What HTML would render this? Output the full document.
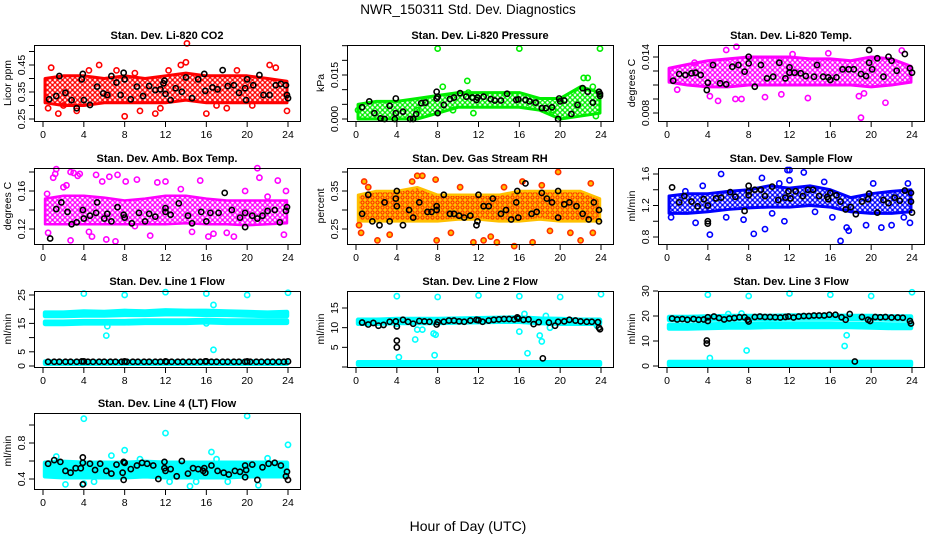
<!DOCTYPE html>
<html><head><meta charset="utf-8"><style>
html,body{margin:0;padding:0;background:#fff;}
svg{display:block;font-family:"Liberation Sans",Arial,sans-serif;}
</style></head><body>
<svg id="chart" width="936" height="540" viewBox="0 0 936 540" xmlns="http://www.w3.org/2000/svg">
<defs>
<pattern id="pat-red" width="5" height="5" patternUnits="userSpaceOnUse"><circle cx="2.5" cy="2.5" r="1.9" fill="none" stroke="#ff0000" stroke-width="1.3"/></pattern>
<pattern id="pat-green" width="5" height="5" patternUnits="userSpaceOnUse"><circle cx="2.5" cy="2.5" r="1.9" fill="none" stroke="#00ee00" stroke-width="1.3"/></pattern>
<pattern id="pat-magenta" width="5" height="5" patternUnits="userSpaceOnUse"><circle cx="2.5" cy="2.5" r="1.9" fill="none" stroke="#ff00ff" stroke-width="1.3"/></pattern>
<pattern id="pat-orange" width="5" height="5" patternUnits="userSpaceOnUse"><rect width="5" height="5" fill="#ffc000"/><circle cx="2.5" cy="2.5" r="1.6" fill="none" stroke="#ff2000" stroke-width="1"/></pattern>
<pattern id="pat-blue" width="5" height="5" patternUnits="userSpaceOnUse"><circle cx="2.5" cy="2.5" r="1.9" fill="none" stroke="#0000ff" stroke-width="1.3"/></pattern>
<pattern id="pat-cyan" width="5" height="5" patternUnits="userSpaceOnUse"><rect width="5" height="5" fill="#00ffff"/></pattern>
</defs>
<text x="468" y="14" font-size="13.5" text-anchor="middle">NWR_150311  Std. Dev. Diagnostics</text>
<text x="468" y="531" font-size="14" text-anchor="middle">Hour of Day (UTC)</text>
</svg>
<script>
// ---------- data ----------
const bandHours = [0.2,2,4,6,8,10,12,14,16,18,20,22,23.9];
const xTicks = [0,4,8,12,16,20,24];

// P1 CO2
const co2Lo = [0.31,0.30,0.30,0.31,0.31,0.31,0.31,0.32,0.31,0.31,0.31,0.31,0.31];
const co2Hi = [0.40,0.41,0.41,0.40,0.41,0.40,0.41,0.42,0.41,0.41,0.41,0.40,0.39];
const co2OutX = [0.8,0.5,1.5,3.3,5.5,7.2,8.0,9.5,11.0,11.5,13.5,14.1,14.0,16,17,18,19,22.2,23.9,22.8,4.5,2.0,9,12.3,20.5];
const co2OutY = [0.44,0.29,0.27,0.28,0.45,0.43,0.26,0.28,0.27,0.29,0.45,0.53,0.46,0.27,0.30,0.29,0.43,0.45,0.28,0.44,0.43,0.30,0.42,0.43,0.30];
const co2BX = [0.6,1.3,1.6,2.2,2.8,3.3,3.8,3.9,4.0,4.6,5.3,5.9,6.3,6.7,7.2,7.6,7.9,8.0,8.6,9.2,9.8,10.4,11.0,11.5,11.8,11.9,12.0,12.5,13.0,13.6,14.0,14.6,15.2,15.8,15.9,16.6,17.1,17.6,18.1,18.7,19.2,19.8,19.9,20.0,20.6,21.2,21.6,22.2,22.8,23.3,23.8,23.9,24.0];
const co2BY = [0.323,0.335,0.409,0.347,0.320,0.290,0.397,0.417,0.320,0.302,0.370,0.345,0.339,0.409,0.385,0.339,0.421,0.397,0.323,0.370,0.335,0.372,0.357,0.360,0.382,0.392,0.343,0.320,0.364,0.351,0.404,0.327,0.397,0.417,0.354,0.367,0.360,0.431,0.372,0.375,0.347,0.364,0.320,0.397,0.375,0.413,0.339,0.339,0.375,0.380,0.375,0.339,0.327];

// P2 pressure
const prLo = [0,0,0,0,0.002,0.004,0.004,0.004,0.004,0.003,0,0.001,0.002];
const prHi = [0.005,0.006,0.006,0.007,0.008,0.009,0.009,0.009,0.009,0.007,0.007,0.011,0.009];
const prOutX = [8.0,16,23.9,10.9,8.5,22.3,22.7,23.2,11,9.5,0.2,11.5,6,23.5,19.3];
const prOutY = [0.024,0.024,0.024,0.013,0.011,0.014,0.014,0.011,0.009,0.003,0.003,0.002,0.003,0.001,0.003];
const prBX = [0.6,1.3,1.8,2.4,2.8,3.3,3.8,3.9,3.9,4.6,5.3,5.6,5.9,6.4,6.8,7.9,7.9,8.0,8.0,8.6,9.2,9.6,10.2,10.8,11.4,11.8,11.9,12.5,13.2,13.6,14.2,14.8,15.7,15.9,16.6,17.0,17.6,18.2,18.6,19.2,19.8,19.9,20.0,20.4,21.1,21.7,22.2,22.7,23.2,23.8,23.9,23.9];
const prBY = [0.004,0.006,0.002,0.0002,0,0.0045,0,0.002,0.007,0.0025,0,0,0.0017,0.0054,0.0056,0.0093,0.007,0.0076,0.002,0.0048,0.0068,0.0073,0.0088,0.0076,0.0073,0.0065,0.0073,0.0076,0.0068,0.0063,0.0063,0.0086,0.0065,0.0067,0.0065,0.006,0.0056,0.0037,0.0037,0.004,0,0.007,0.006,0.0063,0.0017,0.0048,0.0105,0.0093,0.0056,0.0093,0.0079,0.0086];

// P3 Li-820 temp
const ltLo = [0.0113,0.0110,0.0108,0.0108,0.0110,0.0110,0.0110,0.0110,0.0110,0.0110,0.0108,0.0110,0.0113];
const ltHi = [0.0128,0.0132,0.0136,0.0138,0.0140,0.0140,0.0140,0.0138,0.0138,0.0136,0.0140,0.0138,0.0130];
const ltOutX = [5.8,6.8,19.0,23.0,21.4,4.2,5.0,6.7,7.3,9.6,13.8,18.8,19.3,11.2,1.0,12.3,15.8,2.7];
const ltOutY = [0.01475,0.0151,0.0075,0.0147,0.0091,0.0098,0.0093,0.0095,0.0095,0.0097,0.0096,0.0098,0.0101,0.0100,0.0105,0.0143,0.0144,0.0134];
const ltBX = [0.6,1.2,1.8,2.4,2.8,3.3,3.9,4.0,4.5,5.2,5.8,6.4,7.0,7.6,8.0,8.0,8.6,9.2,9.8,10.4,11.0,11.6,12.0,12.0,12.5,13.1,13.6,14.4,14.7,15.3,15.8,16.0,16.6,17.2,17.8,18.3,19.0,19.5,19.8,19.8,20.1,20.6,21.2,21.7,22.0,22.5,23.3,23.8,24.0];
const ltBY = [0.01146,0.01218,0.01207,0.01225,0.01232,0.01207,0.01046,0.01125,0.01314,0.01118,0.01107,0.01296,0.01314,0.01243,0.01403,0.01332,0.01082,0.01314,0.01171,0.01189,0.01339,0.01171,0.01232,0.01289,0.01232,0.01225,0.01196,0.01189,0.01314,0.01189,0.01182,0.01154,0.01182,0.01268,0.01268,0.01268,0.01218,0.01196,0.01475,0.01339,0.01268,0.01386,0.01189,0.01403,0.0136,0.01253,0.01432,0.01279,0.01232];

// P4 amb box temp
const abLo = [0.125,0.125,0.125,0.125,0.125,0.125,0.125,0.126,0.125,0.125,0.124,0.125,0.126];
const abHi = [0.152,0.155,0.155,0.153,0.150,0.152,0.155,0.155,0.152,0.150,0.150,0.150,0.150];
const abOutX = [0.5,1.0,1.2,1.3,2.0,2.3,2.7,2.7,3.0,3.4,3.6,4.5,5.2,5.8,6.2,6.5,7.1,7.3,8.1,9.2,10.5,11.2,12.0,13.5,14.6,15.4,16.2,16.7,18.0,18.7,19.8,21.0,21.2,22.0,23.0,23.6,23.8,0.4,4.8,9.0];
const abOutY = [0.116,0.174,0.178,0.183,0.164,0.166,0.108,0.180,0.179,0.176,0.178,0.117,0.177,0.170,0.109,0.175,0.107,0.177,0.170,0.172,0.113,0.169,0.170,0.162,0.117,0.171,0.112,0.115,0.116,0.112,0.160,0.184,0.174,0.154,0.171,0.114,0.160,0.157,0.112,0.123];
const abBX = [0.7,1.3,1.8,2.4,2.8,3.3,3.9,4.0,4.6,5.2,5.3,6.0,6.3,6.7,7.3,7.9,8.0,8.7,9.4,10.0,10.4,11.0,12.0,12.0,12.5,13.3,14.2,14.6,15.5,16.0,16.4,17.2,17.8,18.5,19.3,19.8,19.8,20.5,21.0,21.5,22.0,22.7,23.2,23.8,23.9];
const abBY = [0.110,0.141,0.148,0.138,0.125,0.127,0.140,0.131,0.134,0.137,0.148,0.131,0.136,0.128,0.143,0.135,0.132,0.126,0.137,0.128,0.136,0.133,0.138,0.142,0.135,0.147,0.134,0.126,0.138,0.128,0.137,0.137,0.158,0.140,0.132,0.137,0.122,0.134,0.131,0.134,0.139,0.140,0.127,0.139,0.143];

// P5 gas stream RH
const rhLo = [0.27,0.27,0.27,0.27,0.27,0.275,0.275,0.27,0.27,0.275,0.27,0.27,0.27];
const rhHi = [0.34,0.35,0.35,0.36,0.34,0.34,0.34,0.34,0.35,0.35,0.35,0.35,0.33];
const rhOutX = [0.3,0.5,0.8,1.2,2.1,3.3,5.5,6.0,6.5,7.8,7.9,9.3,10.2,11.5,12.5,13.2,13.8,14.5,15.5,16.3,17.3,18.2,19.0,19.8,21.0,22.0,23.0,23.2];
const rhOutY = [0.26,0.24,0.375,0.36,0.22,0.235,0.375,0.39,0.39,0.38,0.22,0.24,0.36,0.215,0.22,0.23,0.215,0.36,0.205,0.375,0.215,0.365,0.245,0.40,0.24,0.22,0.37,0.24];
const rhBX = [0.6,1.2,1.6,2.3,2.8,3.3,3.9,4.0,4.0,4.6,5.2,5.6,6.2,7.0,7.4,7.9,7.9,8.6,9.2,9.6,10.1,10.6,11.2,11.8,11.9,12.0,12.5,13.0,13.4,14.2,14.7,15.2,15.7,15.8,15.9,16.6,17.2,17.7,18.2,18.7,19.2,19.8,19.8,20.4,20.9,21.6,22.2,22.8,23.3,23.8,23.8];
const rhBY = [0.29,0.34,0.27,0.26,0.32,0.27,0.33,0.35,0.31,0.26,0.30,0.28,0.32,0.295,0.295,0.31,0.30,0.34,0.29,0.29,0.285,0.28,0.285,0.26,0.27,0.34,0.31,0.31,0.33,0.29,0.30,0.275,0.32,0.35,0.28,0.37,0.29,0.295,0.345,0.33,0.32,0.35,0.28,0.315,0.32,0.31,0.29,0.275,0.32,0.30,0.27];

// P6 sample flow
const sfLo = [1.10,1.10,1.12,1.15,1.17,1.18,1.18,1.20,1.18,1.12,1.10,1.10,1.12];
const sfHi = [1.32,1.35,1.35,1.38,1.40,1.45,1.42,1.45,1.40,1.30,1.35,1.38,1.40];
const sfOutX = [0.4,1.8,2.8,3.5,4.2,5.3,5.8,7.5,8.5,9.3,9.6,10.3,11.0,11.5,11.8,12.0,12.0,13.4,14.5,15.4,16.2,17.0,17.6,17.8,19.5,20.2,21.0,22.0,23.2,23.6,23.8];
const sfOutY = [1.05,1.38,0.98,1.45,0.83,1.60,1.05,1.02,0.84,1.55,0.90,1.10,1.48,1.00,1.65,1.65,1.52,1.62,1.12,1.50,1.05,0.75,0.92,0.88,0.95,1.48,0.92,0.95,1.05,1.48,0.98];
const sfBX = [0.5,1.2,1.7,2.4,3.0,3.6,4.0,4.0,4.0,4.8,5.3,6.2,6.7,7.6,8.0,8.0,8.0,8.6,9.2,9.6,10.3,10.9,11.6,11.9,12.1,12.6,13.3,13.8,14.3,14.9,15.7,15.8,16.0,16.6,17.0,17.5,18.0,18.5,19.1,19.7,19.8,20.6,21.2,21.7,22.3,22.8,23.3,23.9,23.9,24.0];
const sfBY = [1.43,1.24,1.32,1.25,1.19,1.28,1.20,1.00,0.97,1.29,1.30,1.37,1.31,1.13,1.45,1.38,1.33,1.40,1.40,1.32,1.44,1.27,1.30,1.38,1.29,1.38,1.32,1.40,1.40,1.32,1.31,1.28,1.36,1.33,1.25,1.15,1.18,1.09,1.25,1.28,1.35,1.11,1.27,1.23,1.30,1.26,1.39,1.36,1.25,1.11];

// P7 line 1 flow
const l1TopLo = [17.6,17.6,17.8,17.8,18.0,18.0,18.2,18.2,18.0,18.0,17.8,17.6,17.6];
const l1TopHi = [18.8,18.8,19.2,19.0,19.4,19.2,19.6,19.4,19.4,19.2,19.0,18.8,19.0];
const l1MidLo = [14.8,14.8,15.0,15.0,15.0,15.2,15.2,15.2,15.4,15.2,15.2,15.2,15.2];
const l1MidHi = [15.6,15.6,15.8,15.8,15.8,16.0,16.0,16.0,16.2,16.0,16.0,16.0,16.0];
const l1BotLo = [0.8,0.8,0.8,0.8,0.8,0.8,0.8,0.8,0.8,0.8,0.8,0.8,0.8];
const l1BotHi = [1.6,1.6,1.6,1.6,1.6,1.6,1.6,1.6,1.6,1.6,1.6,1.6,1.6];
const l1OutX = [4,8,12,16,20,24,16.7,16.7,6.3,6.2,16];
const l1OutY = [25.5,25,26,25.5,25,25.8,21.5,5.7,14,10.7,15];
const l1BX = [0.5,1.1,1.6,2.2,2.7,3.3,3.8,4.0,4.4,4.9,5.5,6.0,6.6,7.1,7.7,8.0,8.2,8.8,9.3,9.9,10.4,11.0,11.5,12.0,12.1,12.6,13.2,13.7,14.3,14.8,15.4,15.9,16.0,16.5,17.0,17.6,18.1,18.7,19.2,19.8,20.0,20.3,20.9,21.4,22.0,22.5,23.1,23.6,24.0];
const l1BY = [1.5,1.5,1.5,1.5,1.5,1.5,1.6,1.6,1.5,1.5,1.5,1.5,1.5,1.5,1.5,1.6,1.5,1.5,1.5,1.5,1.5,1.5,1.5,1.6,1.5,1.5,1.5,1.5,1.5,1.5,1.5,1.6,1.6,1.5,1.5,1.5,1.5,1.5,1.5,1.5,1.6,1.5,1.5,1.5,1.5,1.5,1.5,1.5,1.6];

// P8 line 2 flow
const l2TopLo = [11.0,11.0,11.2,11.2,11.2,11.3,11.4,11.5,11.5,11.2,11.0,11.0,11.0];
const l2TopHi = [12.0,12.0,12.2,12.2,12.2,12.3,12.4,12.5,12.6,12.3,12.2,12.0,12.0];
const l2BotLo = [0.6,0.6,0.6,0.6,0.6,0.6,0.6,0.6,0.6,0.6,0.6,0.6,0.6];
const l2BotHi = [1.2,1.2,1.2,1.2,1.2,1.2,1.2,1.2,1.2,1.2,1.2,1.2,1.2];
const l2OutX = [4,8,12,16,20,24,4.2,5.8,6.0,6.5,7.6,7.8,7.7,16,16.5,16.8,18.0,18.2,19.0,18.6,4.0,23.6];
const l2OutY = [18,17.8,18.2,18,17.8,18.5,2.5,7,9.5,9.5,8.5,8.2,3,9,13.5,3.5,8,6.5,10,13,11,10.5];
const l2BX = [0.6,1.2,1.7,2.2,2.7,3.3,3.9,4.0,4.0,4.0,4.6,5.1,5.6,6.2,6.7,7.2,7.9,8.0,8.6,9.1,9.6,10.1,10.6,11.2,11.8,12.0,12.4,13.0,13.5,14.0,14.5,15.0,15.5,15.8,15.9,16.4,16.9,17.4,17.9,18.3,18.9,19.5,19.8,20.4,20.9,21.5,22.0,22.6,23.1,23.7,23.8,23.9];
const l2BY = [11.3,10.8,11.2,10.5,10.7,11.5,11.6,10.3,6.7,5.0,12.0,11.5,11.0,11.7,11.6,11.5,10.8,11.4,11.5,11.8,11.8,11.6,11.5,11.8,12.0,11.9,11.5,11.8,12.0,12.1,12.2,12.2,12.1,12.6,12.3,12.0,12.1,10.9,11.4,2.2,11.3,10.5,11.5,11.6,12.0,11.8,11.6,11.5,11.5,11.4,10.0,9.6];

// P9 line 3 flow
const l3TopLo = [18.4,18.4,18.6,18.6,18.8,18.8,19.0,19.0,19.0,18.8,18.8,18.6,18.6];
const l3TopHi = [19.6,19.6,19.8,20.0,20.0,20.0,20.2,20.2,20.2,20.0,20.0,19.8,19.8];
const l3MidLo = [15.0,15.0,15.2,15.4,15.4,15.6,15.6,15.6,15.6,15.6,15.4,15.2,15.2];
const l3MidHi = [16.4,16.4,16.6,16.8,16.8,17.0,17.0,17.0,17.0,16.8,16.8,16.6,16.6];
const l3BotLo = [0.4,0.4,0.4,0.4,0.4,0.4,0.4,0.4,0.4,0.4,0.4,0.4,0.4];
const l3BotHi = [1.6,1.6,1.6,1.6,1.6,1.6,1.6,1.6,1.6,1.6,1.6,1.6,1.6];
const l3OutX = [4,8,12,16,20,24,7.8,4.2,17.4,17.6,7.3,6.0];
const l3OutY = [28.5,28,29,28.5,28,29.5,6.2,3.2,8,12.3,21,20.8];
const l3BX = [0.5,1.0,1.5,2.0,2.6,3.1,3.6,4.0,4.0,3.9,3.9,4.6,5.1,5.6,6.1,6.6,7.1,7.6,7.9,8.0,8.6,9.1,9.6,10.1,10.6,11.1,11.6,11.9,12.4,12.9,13.4,13.9,14.4,14.9,15.4,15.9,16.5,17.1,17.5,17.9,18.4,19.1,19.7,19.9,20.4,20.9,21.4,22.0,22.6,23.1,23.8,23.9];
const l3BY = [19,18.6,18.8,18.5,18.8,18.5,18.6,19.5,18.0,10.2,9.0,19.8,19.2,18.6,19.0,19.2,19.5,19.5,18.5,17.8,19.6,19.8,19.6,19.6,19.5,19.4,19.6,19.8,19.4,19.8,20.0,20.0,20.2,20.2,20.2,20.5,20.5,19.5,18.5,20.8,1.8,19.6,18.5,18.0,19.6,19.5,19.6,19.4,19.4,19.3,18.0,17.0];

// P10 line 4 flow
const l4Lo = [0.43,0.42,0.42,0.42,0.42,0.43,0.42,0.42,0.42,0.42,0.43,0.43,0.43];
const l4Hi = [0.58,0.59,0.58,0.58,0.58,0.59,0.58,0.58,0.58,0.58,0.58,0.58,0.58];
const l4OutX = [4,12,20,24,8,16.5,6.7,1.3,2.2,4.0,14.4,21.1,18.1,15.0,12.4,5.0,9.5,22,17];
const l4OutY = [1.07,0.91,1.10,0.78,0.72,0.70,0.66,0.65,0.34,0.35,0.32,0.33,0.37,0.37,0.37,0.37,0.62,0.63,0.62];
const l4BX = [0.5,1.1,1.7,2.2,2.7,3.2,3.7,3.9,3.9,3.9,4.6,5.1,5.6,6.2,6.7,7.2,7.8,7.9,8.0,7.9,8.6,9.2,9.7,10.2,10.8,11.3,11.9,11.9,12.0,12.5,13.1,13.6,14.2,14.7,15.2,15.7,15.8,15.9,16.5,17.1,17.7,18.2,18.8,19.3,19.8,19.9,19.8,20.5,21.0,21.5,22.1,22.7,23.3,23.8,23.9,24.0];
const l4BY = [0.57,0.61,0.59,0.49,0.47,0.52,0.52,0.64,0.58,0.34,0.57,0.50,0.57,0.49,0.46,0.56,0.47,0.59,0.58,0.39,0.51,0.55,0.58,0.57,0.55,0.40,0.59,0.52,0.49,0.51,0.43,0.60,0.46,0.52,0.51,0.49,0.52,0.47,0.55,0.49,0.47,0.45,0.49,0.48,0.55,0.50,0.42,0.56,0.39,0.53,0.57,0.58,0.55,0.43,0.48,0.39];

// ---------- rendering ----------
const svg = document.getElementById('chart');
const NS = 'http://www.w3.org/2000/svg';
function mk(tag, attrs, parent){
  const e = document.createElementNS(NS, tag);
  for (const k in attrs) e.setAttribute(k, attrs[k]);
  (parent || svg).appendChild(e);
  return e;
}
const colLeft = [34, 347, 658];
const rowTop = [45, 168, 291, 413];
const BOXW = 266, BOXH = 76;

const panels = [
 {key:'co2', col:0,row:0,title:'Stan. Dev. Li-820 CO2', ytitle:'Licor ppm', ref:[0.25,119,0.45,65], ticks:[0.25,0.30,0.35,0.40,0.45,0.50], labels:['0.25','0.35','0.45'], color:'#ff0000', pat:'pat-red', bw:3, bands:[[co2Lo,co2Hi]], ox:co2OutX, oy:co2OutY, bx:co2BX, by:co2BY},
 {key:'pressure', col:1,row:0,title:'Stan. Dev. Li-820 Pressure', ytitle:'kPa', ref:[0,119,0.015,75], ticks:[0,0.005,0.010,0.015,0.020,0.025], labels:['0.000','0.015'], color:'#00ee00', pat:'pat-green', bw:3, bands:[[prLo,prHi]], ox:prOutX, oy:prOutY, bx:prBX, by:prBY},
 {key:'li-temp', col:2,row:0,title:'Stan. Dev. Li-820 Temp.', ytitle:'degrees C', ref:[0.008,113,0.014,57], ticks:[0.008,0.0095,0.011,0.0125,0.014], labels:['0.008','0.014'], color:'#ff00ff', pat:'pat-magenta', bw:3, bands:[[ltLo,ltHi]], ox:ltOutX, oy:ltOutY, bx:ltBX, by:ltBY},
 {key:'amb-temp', col:0,row:1,title:'Stan. Dev. Amb. Box Temp.', ytitle:'degrees C', ref:[0.12,229,0.16,191], ticks:[0.12,0.14,0.16,0.18], labels:['0.12','0.16'], color:'#ff00ff', pat:'pat-magenta', bw:2.5, bands:[[abLo,abHi]], ox:abOutX, oy:abOutY, bx:abBX, by:abBY},
 {key:'rh', col:1,row:1,title:'Stan. Dev. Gas Stream RH', ytitle:'percent', ref:[0.25,229,0.35,191], ticks:[0.25,0.30,0.35,0.40], labels:['0.25','0.35'], color:'#ff3000', fillc:'#ffc000', pat:'pat-orange', bw:2.5, bands:[[rhLo,rhHi]], ox:rhOutX, oy:rhOutY, bx:rhBX, by:rhBY},
 {key:'sample-flow', col:2,row:1,title:'Stan. Dev. Sample Flow', ytitle:'ml/min', ref:[0.8,237,1.6,174], ticks:[0.8,1.0,1.2,1.4,1.6], labels:['0.8','1.2','1.6'], color:'#0000ff', pat:'pat-blue', bw:3, bands:[[sfLo,sfHi]], ox:sfOutX, oy:sfOutY, bx:sfBX, by:sfBY},
 {key:'line1', col:0,row:2,title:'Stan. Dev. Line 1 Flow', ytitle:'ml/min', ref:[0,366,25,295], ticks:[0,5,10,15,20,25], labels:['0','5','','15','','25'], color:'#00ffff', pat:'pat-cyan', bw:4.5, bands:[[l1TopLo,l1TopHi],[l1MidLo,l1MidHi],[l1BotLo,l1BotHi]], ox:l1OutX, oy:l1OutY, bx:l1BX, by:l1BY},
 {key:'line2', col:1,row:2,title:'Stan. Dev. Line 2 Flow', ytitle:'ml/min', ref:[0,367,15,308], ticks:[0,5,10,15], labels:['','5','10','15'], color:'#00ffff', pat:'pat-cyan', bw:4.5, bands:[[l2TopLo,l2TopHi],[l2BotLo,l2BotHi]], ox:l2OutX, oy:l2OutY, bx:l2BX, by:l2BY},
 {key:'line3', col:2,row:2,title:'Stan. Dev. Line 3 Flow', ytitle:'ml/min', ref:[0,366,30,291], ticks:[0,10,20,30], labels:['0','10','20','30'], color:'#00ffff', pat:'pat-cyan', bw:4.5, bands:[[l3TopLo,l3TopHi],[l3MidLo,l3MidHi],[l3BotLo,l3BotHi]], ox:l3OutX, oy:l3OutY, bx:l3BX, by:l3BY},
 {key:'line4', col:0,row:3,title:'Stan. Dev. Line 4 (LT) Flow', ytitle:'ml/min', ref:[0.4,479,0.8,443], ticks:[0.4,0.6,0.8,1.0], labels:['0.4','','0.8',''], color:'#00ffff', pat:'pat-cyan', bw:4.5, bands:[[l4Lo,l4Hi]], ox:l4OutX, oy:l4OutY, bx:l4BX, by:l4BY}
];

panels.forEach(p => {
  const L = colLeft[p.col], T = rowTop[p.row];
  const xs = h => L + 9 + h * 245 / 24;
  const ys = v => p.ref[1] + (v - p.ref[0]) * (p.ref[3] - p.ref[1]) / (p.ref[2] - p.ref[0]);
  const g = mk('g', {});
  
  

  const title = mk('text', {x: L + BOXW/2, y: T - 6, 'font-size': 11, 'font-weight': 'bold', 'text-anchor': 'middle'}, g);
  title.textContent = p.title;
  
  

  const yt = mk('text', {x: 0, y: 0, 'font-size': 10.5, 'text-anchor': 'middle', transform: `translate(${L-23},${T+BOXH/2}) rotate(-90)`}, g);
  yt.textContent = p.ytitle;
  
  

  p.bands.forEach(b => {
    let pts = bandHours.map((h,i) => xs(h)+','+ys(b[1][i]));
    pts = pts.concat(bandHours.map((h,i) => xs(h)+','+ys(b[0][i])).reverse());
    const poly = mk('polygon', {points: pts.join(' '), fill: 'url(#' + p.pat + ')', stroke: p.fillc || p.color, 'stroke-width': p.bw, 'stroke-linejoin': 'round'}, g);
    
    
  });
  p.ox.forEach((h,i) => {
    const c = mk('circle', {cx: xs(h), cy: ys(p.oy[i]), r: 2.6, fill: p.fillc ? p.fillc : 'none', stroke: p.color, 'stroke-width': 1.6}, g);
    
    
  });
  p.bx.forEach((h,i) => {
    const c = mk('circle', {cx: xs(h), cy: ys(p.by[i]), r: 2.6, fill: 'none', stroke: '#000', 'stroke-width': 1.6}, g);
    
    
  });

  const box = mk('rect', {x: L+0.5, y: T+0.5, width: BOXW, height: BOXH, fill: 'none', stroke: '#000', 'stroke-width': 1}, g);
  
  

  xTicks.forEach(h => {
    const t = mk('line', {x1: xs(h), x2: xs(h), y1: T+BOXH+1, y2: T+BOXH+6, stroke: '#000'}, g);
    
    
    const lb = mk('text', {x: xs(h), y: T+BOXH+17, 'font-size': 10.5, 'text-anchor': 'middle'}, g);
    lb.textContent = h;
    
    
  });
  p.ticks.forEach((v,i) => {
    const t = mk('line', {x1: L-5, x2: L, y1: ys(v), y2: ys(v), stroke: '#000'}, g);
    
    
  });
  p.labels.forEach((s,i) => {
    if (!s) return;
    const v = parseFloat(s);
    const lb = mk('text', {x: 0, y: 0, 'font-size': 10.5, 'text-anchor': 'middle', transform: `translate(${L-9},${ys(v)}) rotate(-90)`}, g);
    lb.textContent = s;
    
    
  });
});
</script>
</body></html>
